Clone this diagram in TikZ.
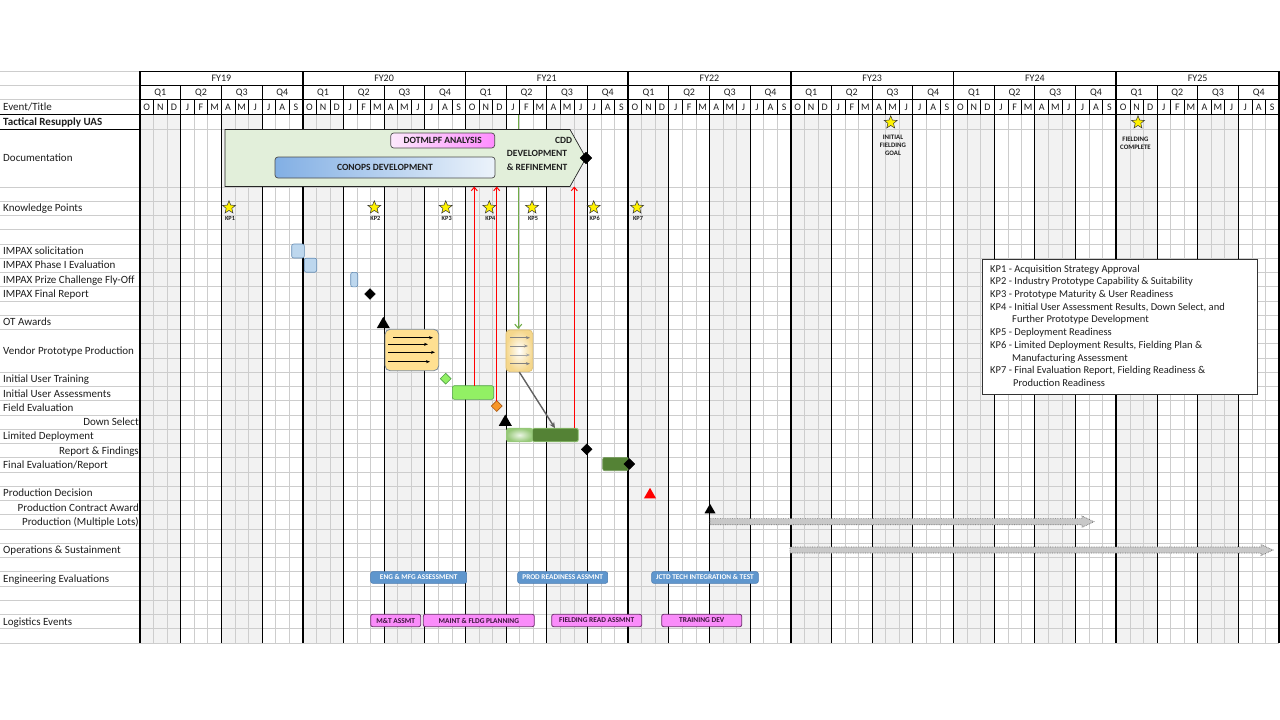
\documentclass[tikz,border=0pt]{standalone}
\usepackage{fontspec}
\setmainfont{Carlito}
\usetikzlibrary{shapes.geometric,arrows.meta}
\definecolor{shadec}{RGB}{242,242,242}
\definecolor{gridc}{RGB}{205,205,205}
\definecolor{docgreen}{RGB}{226,239,218}
\definecolor{pinkR}{RGB}{255,140,255}
\definecolor{pinkL}{RGB}{252,232,252}
\definecolor{blueL}{RGB}{130,175,228}
\definecolor{blueR}{RGB}{236,243,251}
\definecolor{impfill}{RGB}{189,215,238}
\definecolor{impdraw}{RGB}{100,140,180}
\definecolor{vpfill}{RGB}{255,224,145}
\definecolor{vpdraw}{RGB}{125,140,155}
\definecolor{creamout}{RGB}{245,215,140}
\definecolor{ltgreen}{RGB}{146,240,100}
\definecolor{ltgreenD}{RGB}{80,160,70}
\definecolor{orangeF}{RGB}{247,150,40}
\definecolor{orangeD}{RGB}{170,90,20}
\definecolor{dkgreen}{RGB}{84,130,53}
\definecolor{fadeout}{RGB}{150,200,120}
\definecolor{fadein}{RGB}{235,245,228}
\definecolor{kpgreen}{RGB}{112,173,71}
\definecolor{engblue}{RGB}{95,150,205}
\definecolor{engdraw}{RGB}{70,120,175}
\definecolor{logpink}{RGB}{250,140,250}
\definecolor{logdraw}{RGB}{110,45,110}
\definecolor{logtext}{RGB}{60,20,60}
\definecolor{barfill}{RGB}{200,200,200}
\definecolor{bardraw}{RGB}{110,110,110}
\definecolor{txtc}{RGB}{30,30,30}
\begin{document}
\begin{tikzpicture}[x=1pt,y=-1pt,
  lbl/.style={anchor=west,inner sep=0,text height=7pt,text depth=0pt,font=\fontsize{11}{13}\selectfont,text=txtc},
  lblr/.style={anchor=east,inner sep=0,text height=7pt,text depth=0pt,font=\fontsize{11}{13}\selectfont,text=txtc},
  hdr/.style={inner sep=0,text height=6.4pt,text depth=0pt,font=\fontsize{10}{12}\selectfont,text=txtc},
  lgd/.style={anchor=west,inner sep=0,text height=6.8pt,text depth=0pt,font=\fontsize{10.5}{12}\selectfont,text=txtc},
  kpstar/.style={star,star points=5,star point ratio=2.3,minimum size=13.5,inner sep=0,fill=yellow,draw=black!80,line width=0.5},
  kptxt/.style={inner sep=0,font=\bfseries\fontsize{6.3}{7}\selectfont,text=txtc},
  smalltxt/.style={inner sep=0,align=center,font=\bfseries\fontsize{6.8}{8.2}\selectfont,text=txtc},
  blkdia/.style={diamond,fill=black,draw=black,minimum width=11,minimum height=11,inner sep=0},
  tri/.style={regular polygon,regular polygon sides=3,inner sep=0,minimum size=15,fill=black},
  impbox/.style={draw=impdraw,fill=impfill,rounded corners=2,inner sep=0,line width=0.6},
  redarr/.style={red,line width=1,-{Straight Barb[length=3.5pt,width=6pt]}},
  inarr/.style={line width=0.6,-{Stealth[length=4pt,width=3pt]}},
  engbox/.style={fill=engblue,draw=engdraw,line width=0.5,rounded corners=2,inner sep=0,minimum height=11.6,text=white,font=\bfseries\fontsize{7.3}{8}\selectfont},
  logbox/.style={fill=logpink,draw=logdraw,line width=0.8,rounded corners=2,inner sep=0,minimum height=12.4,text=logtext,font=\bfseries\fontsize{7.4}{8}\selectfont},
  blockarr/.style={fill=barfill,draw=bardraw,densely dotted,line width=0.7}
]
\useasboundingbox (0,0) rectangle (1280,720);
\fill[white] (0,0) rectangle (1280,720);
% ---- shading of Q1 and Q3 columns
\foreach \k in {0,...,6}{
  \pgfmathsetmacro\xa{140+162.714*\k}
  \fill[shadec] (\xa,114) rectangle (\xa+40.6785,643);
  \fill[shadec] (\xa+81.357,114) rectangle (\xa+122.0355,643);
}
% ---- horizontal grid lines
\draw[gridc,line width=0.6] (140,129) -- (1279,129);
\foreach \k in {0,...,32}{
  \pgfmathsetmacro\yy{187+14.25*\k}
  \draw[gridc,line width=0.6] (140,\yy) -- (1279,\yy);
}
\foreach \k in {0,...,10}{
  \pgfmathsetmacro\yy{187+14.25*\k}
  \draw[gridc,line width=0.6] (0,\yy) -- (140,\yy);
}
\foreach \k in {13,...,32}{
  \pgfmathsetmacro\yy{187+14.25*\k}
  \draw[gridc,line width=0.6] (0,\yy) -- (140,\yy);
}
\foreach \yy in {71,85,99}{
  \draw[gridc,line width=0.6] (0,\yy) -- (140,\yy);
}
% ---- month lines
\foreach \m in {1,...,83}{
  \pgfmathsetmacro\xx{140+13.5595*\m}
  \pgfmathtruncatemacro\mymod{mod(\m,3)}
  \ifnum\mymod=0\relax\else
    \draw[gridc,line width=0.6] (\xx,114) -- (\xx,643);
    \draw[black,line width=0.6] (\xx,99) -- (\xx,114);
  \fi
}
% ---- quarter lines
\foreach \k in {0,...,6}{
  \foreach \q in {1,2,3}{
    \pgfmathsetmacro\xx{140+162.714*\k+40.6785*\q}
    \draw[black,line width=0.9] (\xx,85) -- (\xx,643);
  }
}
% ---- header horizontal lines
\draw[black,line width=0.8] (140,71) -- (1279,71);
\draw[black,line width=0.8] (140,85) -- (1279,85);
\draw[black,line width=0.8] (140,99) -- (1279,99);
\draw[black,line width=1] (0,114) -- (1279,114);
\draw[black,line width=0.9] (0,129) -- (140,129);
% ---- FY lines
\foreach \k in {0,...,7}{
  \pgfmathsetmacro\xx{140+162.714*\k}
  \draw[black,line width=1.8] (\xx,71) -- (\xx,643);
}
% ---- header text
\foreach \k in {0,...,6}{
  \pgfmathsetmacro\xa{140+162.714*\k}
  \pgfmathtruncatemacro\fy{19+\k}
  \node[hdr] (fy\k) at (\xa+81.357,78.5) {FY\fy};
  \foreach \q in {1,...,4}{
    \node[hdr] (q\k-\q) at (\xa+40.6785*\q-20.339,92.5) {Q\q};
  }
  \foreach \mon [count=\i from 0] in {O,N,D,J,F,M,A,M,J,J,A,S}{
    \node[hdr] (m\k-\i) at (\xa+13.5595*\i+6.78,106.8) {\mon};
  }
}
% ---- row labels
\node[lbl] (evt) at (3,106.8) {Event/Title};
\node[lbl,font=\bfseries\fontsize{11}{13}\selectfont] (tac) at (3,121.5) {Tactical Resupply UAS};
\node[lbl] (docl) at (3,158) {Documentation};
\node[lbl] (kpl) at (3,208.4) {Knowledge Points};
\node[lbl] (l4) at (3,251.1) {IMPAX solicitation};
\node[lbl] (l5) at (3,265.4) {IMPAX Phase I Evaluation};
\node[lbl] (l6) at (3,279.6) {IMPAX Prize Challenge Fly-Off};
\node[lbl] (l7) at (3,293.9) {IMPAX Final Report};
\node[lbl] (l9) at (3,322.4) {OT Awards};
\node[lbl] (l10) at (3,350.9) {Vendor Prototype Production};
\node[lbl] (l13) at (3,379.4) {Initial User Training};
\node[lbl] (l14) at (3,393.6) {Initial User Assessments};
\node[lbl] (l15) at (3,407.9) {Field Evaluation};
\node[lblr] (l16) at (139,422.1) {Down Select};
\node[lbl] (l17) at (3,436.4) {Limited Deployment};
\node[lblr] (l18) at (139,450.6) {Report \& Findings};
\node[lbl] (l19) at (3,464.9) {Final Evaluation/Report};
\node[lbl] (l21) at (3,493.4) {Production Decision};
\node[lblr] (l22) at (139,507.6) {Production Contract Award};
\node[lblr] (l23) at (139,521.9) {Production (Multiple Lots)};
\node[lbl] (l25) at (3,550.4) {Operations \& Sustainment};
\node[lbl] (l27) at (3,578.9) {Engineering Evaluations};
\node[lbl] (l30) at (3,621.6) {Logistics Events};
% ---- green arrow (behind documentation arrow)
\coordinate (gs) at (518.3,115);
\coordinate (ge) at (518.3,329);
\draw[kpgreen,line width=1.1,-{Straight Barb[length=4pt,width=7pt]}] (gs) -- (ge);
% ---- documentation arrow
\draw[fill=docgreen,draw=black!85,line width=0.7] (225,129.5) -- (570,129.5) -- (586,158) -- (570,186.5) -- (225,186.5) -- cycle;
\coordinate (docb) at (400,186.5);
\node[draw=black!70,line width=0.7,rounded corners=3,left color=pinkL,right color=pinkR,minimum width=104,minimum height=15,inner sep=0,font=\bfseries\fontsize{9.5}{11}\selectfont,text=txtc] (dotm) at (442.7,140.5) {DOTMLPF ANALYSIS};
\node[draw=black!70,line width=0.7,rounded corners=3,left color=blueL,right color=blueR,minimum width=220,minimum height=21,inner sep=0,font=\bfseries\fontsize{9.5}{11}\selectfont,text=txtc] (conops) at (385,167.5) {CONOPS DEVELOPMENT};
\node[inner sep=0,font=\bfseries\fontsize{9.5}{11}\selectfont,text=txtc] (cdd1) at (563.5,140) {CDD};
\node[inner sep=0,font=\bfseries\fontsize{9.5}{11}\selectfont,text=txtc] (cdd2) at (537,153.5) {DEVELOPMENT};
\node[inner sep=0,font=\bfseries\fontsize{9.5}{11}\selectfont,text=txtc] (cdd3) at (537,167) {\& REFINEMENT};
\node[blkdia,minimum width=12,minimum height=12] (doctip) at (586,158) {};
% ---- fielding milestones
\node[kpstar] (ifg) at (890.7,122.5) {};
\node[smalltxt] (ifgt) at (893,145.5) {INITIAL\\FIELDING\\GOAL};
\node[kpstar] (fc) at (1138,122.5) {};
\node[smalltxt] (fct) at (1135.5,143.5) {FIELDING\\COMPLETE};
% ---- knowledge points
\foreach \n/\xx in {1/229,2/374.3,3/445.7,4/489.3,5/532,6/593.7,7/637}{
  \node[kpstar] (kp\n) at (\xx,207.5) {};
  \node[kptxt] (kpt\n) at (\xx+1,218.6) {KP\n};
}
% ---- IMPAX
\node[impbox,minimum width=12.6,minimum height=14] (isol) at (298,251) {};
\node[impbox,minimum width=12.4,minimum height=14] (iph1) at (310.5,265.2) {};
\node[impbox,minimum width=7,minimum height=14.5] (iprz) at (354.2,279.6) {};
\node[blkdia] (ifin) at (370,294) {};
% ---- OT awards
\node[tri] (ota) at (383.3,324.3) {};
% ---- vendor prototype production
\node[draw=vpdraw,fill=vpfill,line width=0.8,rounded corners=5,minimum width=53.7,minimum height=41.4,inner sep=0] (vp1) at (411.9,350) {};
\draw[inarr] (393,337.7) -- (433,337.7);
\draw[inarr] (388,344.3) -- (428,344.3);
\draw[inarr] (388,352.3) -- (435,352.3);
\draw[inarr] (388,361.7) -- (430,361.7);
\node[draw={rgb,255:red,225;green,195;blue,120},inner color=white,outer color=creamout,line width=0.8,rounded corners=4,minimum width=26.7,minimum height=41.7,inner sep=0] (vp2) at (519.3,350.8) {};
\draw[inarr,black!50] (510,337.7) -- (530,337.7);
\draw[inarr,black!45] (510,346) -- (528,346);
\draw[inarr,black!35] (510,355) -- (530,355);
\draw[inarr,black!50] (510,363.7) -- (530,363.7);
% ---- initial user training / assessments / field evaluation
\node[diamond,fill=ltgreen,draw=ltgreenD,line width=0.6,minimum width=11,minimum height=11,inner sep=0] (iut) at (445.7,378.7) {};
\node[fill=ltgreen,draw=ltgreenD,line width=0.6,rounded corners=2,minimum width=41.4,minimum height=13.6,inner sep=0] (iua) at (473,392.5) {};
\node[diamond,fill=orangeF,draw=orangeD,line width=0.6,minimum width=11,minimum height=11,inner sep=0] (fev) at (496.7,406) {};
% ---- down select
\node[tri] (dsel) at (505.3,422) {};
% ---- limited deployment
\node[inner color=fadein,outer color=fadeout,draw=fadeout,line width=0.6,rounded corners=2,minimum width=25.6,minimum height=13.6,inner sep=0] (ld1) at (519.5,435) {};
\node[fill=dkgreen,draw=fadeout,line width=0.8,rounded corners=2,minimum width=46,minimum height=13.6,inner sep=0] (ld2) at (555.3,435) {};
\coordinate (ga) at (555,428.2);
\draw[black!62,line width=1.4,-{Stealth[length=6pt,width=5.5pt]}] (vp2.south) -- (ga);
% ---- red arrows
\coordinate (r1s) at (474.3,385.7);
\coordinate (r2s) at (496.7,400.5);
\coordinate (r3s) at (574.3,428.2);
\draw[redarr] (r1s) -- (r1s |- docb);
\draw[redarr] (r2s) -- (r2s |- docb);
\draw[redarr] (r3s) -- (r3s |- docb);
% ---- report & findings, final evaluation
\node[blkdia] (rf) at (586.7,449.3) {};
\node[fill=dkgreen,draw=dkgreen!80,line width=0.6,rounded corners=2,minimum width=25.6,minimum height=13.4,inner sep=0] (fer) at (615.5,464) {};
\node[blkdia] (ferd) at (629.3,464) {};
% ---- production
\node[tri,fill=red,minimum size=14] (pd) at (650,494.8) {};
\node[tri,minimum size=12.7] (pca) at (710,510.1) {};
\draw[blockarr] (710,518.6) -- (1082,518.6) -- (1082,516) -- (1094,521.7) -- (1082,527.4) -- (1082,524.8) -- (710,524.8) -- cycle;
\draw[blockarr] (790,547) -- (1261,547) -- (1261,544.5) -- (1273,550) -- (1261,555.5) -- (1261,553) -- (790,553) -- cycle;
% ---- engineering evaluations
\node[engbox,minimum width=96] (eng1) at (418.7,577.5) {ENG \& MFG ASSESSMENT};
\node[engbox,minimum width=90] (eng2) at (562.7,577.5) {PROD READINESS ASSMNT};
\node[engbox,minimum width=106.6] (eng3) at (705,577.5) {JCTD TECH INTEGRATION \& TEST};
% ---- logistics events
\node[logbox,minimum width=50] (log1) at (395.7,620.5) {M\&T ASSMT};
\node[logbox,minimum width=111] (log2) at (478.8,620.5) {MAINT \& FLDG PLANNING};
\node[logbox,minimum width=90] (log3) at (596.7,620.5) {FIELDING READ ASSMNT};
\node[logbox,minimum width=80] (log4) at (701.7,620.5) {TRAINING DEV};
% ---- legend
\node[draw=black!80,line width=0.8,fill=white,minimum width=275,minimum height=135,inner sep=0] (legend) at (1119.5,326.5) {};
\node[lgd] (lg1) at (990,268.7) {KP1 - Acquisition Strategy Approval};
\node[lgd] (lg2) at (990,281.4) {KP2 - Industry Prototype Capability \& Suitability};
\node[lgd] (lg3) at (990,294.1) {KP3 - Prototype Maturity \& User Readiness};
\node[lgd] (lg4) at (990,306.8) {KP4 - Initial User Assessment Results, Down Select, and};
\node[lgd] (lg5) at (1012,319.5) {Further Prototype Development};
\node[lgd] (lg6) at (990,332.2) {KP5 - Deployment Readiness};
\node[lgd] (lg7) at (990,344.9) {KP6 - Limited Deployment Results, Fielding Plan \&};
\node[lgd] (lg8) at (1012,357.6) {Manufacturing Assessment};
\node[lgd] (lg9) at (990,370.3) {KP7 - Final Evaluation Report, Fielding Readiness \&};
\node[lgd] (lg10) at (1013,383) {Production Readiness};
\end{tikzpicture}
\end{document}
